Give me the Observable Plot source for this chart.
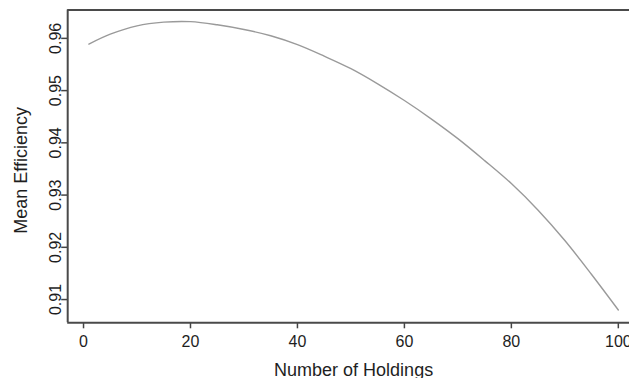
<!DOCTYPE html>
<html>
<head>
<meta charset="utf-8">
<script src="https://cdn.jsdelivr.net/npm/d3@7"></script>
<script src="https://cdn.jsdelivr.net/npm/@observablehq/plot@0.6"></script>
<style>
  html, body { margin: 0; padding: 0; background: #fff; }
  svg { display: block; }
</style>
</head>
<body>
<div id="chart"></div>
<script>
const holdings = [1, 5, 10, 15, 20, 25, 30, 35, 40, 45, 50, 55, 60, 65, 70, 75, 80, 85, 90, 95, 100];
const efficiency = [0.9589, 0.9608, 0.9624, 0.9631, 0.9632, 0.9626, 0.9617, 0.9605, 0.9588, 0.9566, 0.9542,
                    0.9513, 0.9481, 0.9446, 0.9408, 0.9366, 0.9322, 0.9271, 0.9213, 0.9148, 0.9080];
const xTicks = [0, 20, 40, 60, 80, 100];
const yTicks = [0.91, 0.92, 0.93, 0.94, 0.95, 0.96];
const xLabel = "Number of Holdings";
const yLabel = "Mean Efficiency";

const data = holdings.map((h, i) => ({h, e: efficiency[i]}));
const xDomain = [-2.96, 103.96];
const yDomain = [0.90555, 0.96545];
const font = "'Liberation Sans', Arial, Helvetica, sans-serif";
const ink = "#1e1e1e";

const chart = Plot.plot({
  width: 629,
  height: 378,
  marginLeft: 67.2,
  marginRight: 0,
  marginTop: 9.4,
  marginBottom: 55.7,
  style: {fontFamily: font, fontSize: "16px", color: ink, background: "#fff"},
  x: {domain: xDomain, range: [67.2, 639]},
  y: {domain: yDomain},
  marks: [
    Plot.axisX({ticks: xTicks, tickSize: 6, tickPadding: 7, tickFormat: d => String(d), label: null, stroke: "#444", strokeWidth: 1.5, fill: ink, fontSize: 16}),
    Plot.axisY({ticks: yTicks, tickSize: 6, tickFormat: () => "", label: null, stroke: "#444", strokeWidth: 1.5}),
    Plot.text(yTicks, {y: d => d, text: d => d.toFixed(2), frameAnchor: "left", dx: -6.5, rotate: -90, textAnchor: "middle", lineAnchor: "bottom", fontSize: 16, fill: ink}),
    Plot.line(data, {x: "h", y: "e", stroke: "#9a9a9a", strokeWidth: 1.4, curve: "catmull-rom"}),
    Plot.ruleX([xDomain[0]], {stroke: "#4a4a4a", strokeWidth: 2}),
    Plot.ruleY([yDomain[0], yDomain[1]], {stroke: "#4a4a4a", strokeWidth: 2}),
    Plot.text([xLabel], {frameAnchor: "bottom", dx: 5, dy: 52.7, lineAnchor: "bottom", textAnchor: "middle", fontSize: 18, fill: ink}),
    Plot.text([yLabel], {frameAnchor: "left", dx: -40.7, dy: 4, rotate: -90, lineAnchor: "bottom", textAnchor: "middle", fontSize: 18, fill: ink})
  ]
});
document.getElementById("chart").appendChild(chart);
</script>
</body>
</html>
